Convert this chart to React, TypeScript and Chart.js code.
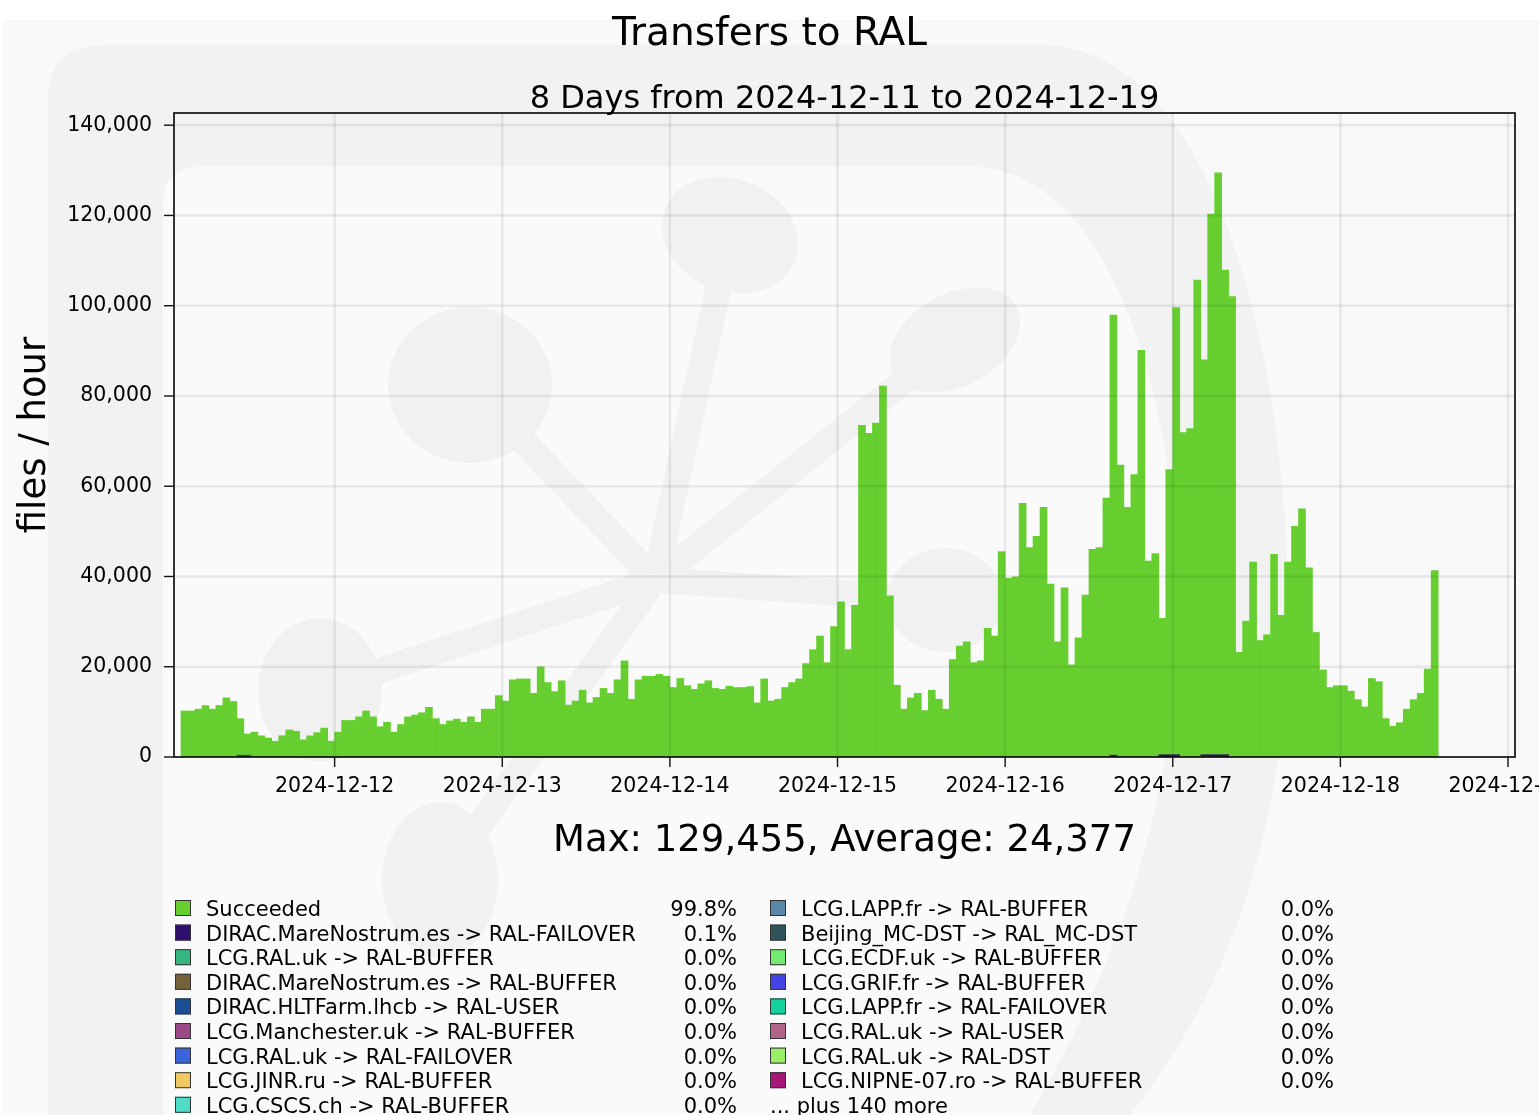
import { useEffect, useRef } from "react";
import { Chart, registerables } from "chart.js";

Chart.register(...registerables);

const W = 1539;
const H = 1115;
const FONT = '"DejaVu Sans", "Liberation Sans", sans-serif';

const CHART_TITLE = "Transfers to RAL";
const CHART_SUBTITLE = "8 Days from 2024-12-11 to 2024-12-19";
const Y_LABEL = "files / hour";

// x axis: hours after 2024-12-11 01:00, one bin per hour
const AXIS_HOURS = 192;
const FIRST_BIN_HOUR = 1; // first hourly bin starts 2024-12-11 02:00
const X_TICK_HOURS = [23, 47, 71, 95, 119, 143, 167, 191];
const X_TICK_LABELS = [
  "2024-12-12",
  "2024-12-13",
  "2024-12-14",
  "2024-12-15",
  "2024-12-16",
  "2024-12-17",
  "2024-12-18",
  "2024-12-19",
];
const Y_TICKS = [0, 20000, 40000, 60000, 80000, 100000, 120000, 140000];
const Y_MAX = 142700;

const MAX_VALUE = 129455;
const AVG_VALUE = 24377;

// Succeeded, files per hour (one value per hourly bin)
const SUCCEEDED = [
  10200, 10200, 10600, 11400, 10600, 11400, 13100, 12300, 8100, 4700,
  5500, 4700, 4200, 3500, 4700, 6000, 5700, 3800, 4700, 5400,
  6400, 3500, 5500, 8100, 8100, 8900, 10200, 8900, 6700, 7700,
  5500, 7200, 8900, 9300, 9800, 11000, 8500, 7200, 8000, 8400,
  7700, 8900, 7700, 10600, 10600, 13600, 12400, 17100, 17300, 17300,
  14100, 20000, 16500, 14500, 16900, 11500, 12400, 14800, 12000, 13200,
  15200, 14100, 17100, 21300, 12800, 17100, 17900, 17900, 18300, 17900,
  15400, 17400, 15800, 15000, 16200, 16900, 15200, 15000, 15700, 15400,
  15400, 15600, 12000, 17300, 12400, 12800, 15400, 16500, 17300, 20700,
  23800, 26800, 20900, 28900, 34400, 23800, 33600, 73500, 71700, 74000,
  82000, 35700, 15900, 10600, 13100, 14100, 10300, 14800, 12800, 10600,
  21600, 24600, 25500, 20900, 21300, 28300, 26600, 45300, 39600, 39900,
  56200, 46400, 48900, 55300, 38300, 25500, 37500, 20400, 26400, 35900,
  46000, 46400, 57400, 97500, 64500, 55300, 62600, 90100, 43400, 45100,
  30200, 63200, 99100, 71900, 72800, 105700, 87500, 119800, 128955, 107400,
  102000, 23200, 30100, 43200, 25800, 27100, 44900, 31400, 43200, 51100,
  55000, 41900, 27600, 19300, 15400, 15800, 15800, 14600, 12700, 11100,
  17400, 16700, 8500, 6800, 7600, 10600, 12700, 14100, 19500, 41300,
];

// small contributions (bin index -> files/hour)
const MN_FAILOVER_BINS = [133, 140, 141, 142, 146, 147, 148, 149];
const MN_FAILOVER = [400, 500, 500, 500, 500, 500, 500, 500];
const HLT_USER_BINS = [8, 9];
const HLT_USER = [400, 400];
const RAL_BUFFER_BINS = [100, 115, 116, 117, 134];
const RAL_BUFFER = [200, 200, 200, 200, 200];

const COLOR_SUCCEEDED = "#66cf2f";
const COLOR_MN_FAILOVER = "#2f0f6e";
const COLOR_HLT_USER = "#1b4f95";
const COLOR_RAL_BUFFER = "#35b57f";

const LEGEND_LEFT_LABELS = [
  "Succeeded",
  "DIRAC.MareNostrum.es -> RAL-FAILOVER",
  "LCG.RAL.uk -> RAL-BUFFER",
  "DIRAC.MareNostrum.es -> RAL-BUFFER",
  "DIRAC.HLTFarm.lhcb -> RAL-USER",
  "LCG.Manchester.uk -> RAL-BUFFER",
  "LCG.RAL.uk -> RAL-FAILOVER",
  "LCG.JINR.ru -> RAL-BUFFER",
  "LCG.CSCS.ch -> RAL-BUFFER",
];
const LEGEND_LEFT_COLORS = [
  COLOR_SUCCEEDED,
  COLOR_MN_FAILOVER,
  COLOR_RAL_BUFFER,
  "#76623a",
  COLOR_HLT_USER,
  "#9b4a85",
  "#3a64dc",
  "#f0c964",
  "#4fdcc8",
];
const LEGEND_LEFT_PCTS = ["99.8%", "0.1%", "0.0%", "0.0%", "0.0%", "0.0%", "0.0%", "0.0%", "0.0%"];

const LEGEND_RIGHT_LABELS = [
  "LCG.LAPP.fr -> RAL-BUFFER",
  "Beijing_MC-DST -> RAL_MC-DST",
  "LCG.ECDF.uk -> RAL-BUFFER",
  "LCG.GRIF.fr -> RAL-BUFFER",
  "LCG.LAPP.fr -> RAL-FAILOVER",
  "LCG.RAL.uk -> RAL-USER",
  "LCG.RAL.uk -> RAL-DST",
  "LCG.NIPNE-07.ro -> RAL-BUFFER",
];
const LEGEND_RIGHT_COLORS = [
  "#5a87a8",
  "#2f5459",
  "#72ea72",
  "#4444e6",
  "#14d19e",
  "#b0648a",
  "#9aee68",
  "#a5187a",
];
const LEGEND_RIGHT_PCTS = ["0.0%", "0.0%", "0.0%", "0.0%", "0.0%", "0.0%", "0.0%", "0.0%"];
const LEGEND_MORE = "... plus 140 more";

const toPoints = (bins: number[], vals: number[]) =>
  bins.map((b, k) => ({ x: FIRST_BIN_HOUR + b + 0.5, y: vals[k] }));

const decorPlugin = {
  id: "decor",
  beforeDraw(chart: any) {
    const ctx = chart.ctx as CanvasRenderingContext2D;
    ctx.save();
    ctx.fillStyle = "#ffffff";
    ctx.fillRect(0, 0, W, H);
    ctx.fillStyle = "#f9f9f9";
    ctx.fillRect(2, 20, W - 2, H - 20);
    // watermark outer shape
    ctx.fillStyle = "#f2f2f2";
    ctx.beginPath();
    ctx.moveTo(48, 100);
    ctx.quadraticCurveTo(48, 45, 105, 45);
    ctx.lineTo(1050, 45);
    ctx.bezierCurveTo(1230, 60, 1290, 400, 1288, 620);
    ctx.bezierCurveTo(1285, 850, 1220, 1000, 1130, 1115);
    ctx.lineTo(48, 1115);
    ctx.closePath();
    ctx.fill();
    // watermark inner lighter region
    ctx.fillStyle = "#fafafa";
    ctx.beginPath();
    ctx.moveTo(163, 200);
    ctx.quadraticCurveTo(163, 167, 200, 167);
    ctx.lineTo(980, 167);
    ctx.bezierCurveTo(1120, 180, 1178, 420, 1178, 610);
    ctx.bezierCurveTo(1176, 800, 1120, 960, 1030, 1115);
    ctx.lineTo(163, 1115);
    ctx.closePath();
    ctx.fill();
    // faint molecule (single flat tone, no overlap darkening)
    ctx.fillStyle = "#f1f1f1";
    ctx.strokeStyle = "#f1f1f1";
    ctx.lineWidth = 26;
    ctx.lineCap = "butt";
    const hub = [655, 580];
    const nodes: [number, number, number, number, number][] = [
      [730, 235, 70, 56, 0.4],
      [955, 340, 70, 46, -0.5],
      [470, 385, 82, 78, 0],
      [320, 690, 62, 72, 0],
      [945, 600, 58, 52, 0],
      [440, 880, 58, 78, 0],
    ];
    nodes.forEach(([cx, cy]) => {
      ctx.beginPath();
      ctx.moveTo(hub[0], hub[1]);
      ctx.lineTo(cx, cy);
      ctx.stroke();
    });
    nodes.forEach(([cx, cy, rx, ry, rot]) => {
      ctx.beginPath();
      ctx.ellipse(cx, cy, rx, ry, rot, 0, Math.PI * 2);
      ctx.fill();
    });
    ctx.restore();
  },
  afterDatasetsDraw(chart: any) {
    const ctx = chart.ctx as CanvasRenderingContext2D;
    const a = chart.chartArea;
    const xs = chart.scales.x;
    const ys = chart.scales.y;
    const line = (x1: number, y1: number, x2: number, y2: number) => {
      ctx.beginPath();
      ctx.moveTo(x1, y1);
      ctx.lineTo(x2, y2);
      ctx.stroke();
    };
    ctx.save();
    // grid on top of bars
    ctx.strokeStyle = "rgba(0,0,0,0.07)";
    ctx.lineWidth = 2.5;
    X_TICK_HOURS.forEach((h) => {
      const px = xs.getPixelForValue(h);
      line(px, a.top, px, a.bottom);
    });
    Y_TICKS.forEach((v) => {
      if (v === 0) return;
      const py = ys.getPixelForValue(v);
      line(a.left, py, a.right, py);
    });
    // frame
    ctx.strokeStyle = "#111";
    ctx.lineWidth = 1.7;
    ctx.strokeRect(a.left, a.top, a.right - a.left, a.bottom - a.top);
    // tick marks
    ctx.lineWidth = 1.4;
    Y_TICKS.forEach((v) => {
      const py = ys.getPixelForValue(v);
      line(a.left - 10, py, a.left, py);
    });
    X_TICK_HOURS.forEach((h) => {
      const px = xs.getPixelForValue(h);
      line(px, a.bottom, px, a.bottom + 10);
    });
    // x tick labels
    ctx.fillStyle = "#000";
    ctx.font = `20.5px ${FONT}`;
    ctx.textAlign = "center";
    ctx.textBaseline = "alphabetic";
    X_TICK_HOURS.forEach((h, k) => {
      ctx.fillText(X_TICK_LABELS[k], xs.getPixelForValue(h), a.bottom + 35);
    });
    ctx.restore();
  },
  afterDraw(chart: any) {
    const ctx = chart.ctx as CanvasRenderingContext2D;
    const a = chart.chartArea;
    ctx.save();
    ctx.fillStyle = "#000";
    ctx.textBaseline = "alphabetic";
    ctx.textAlign = "center";
    ctx.font = `39px ${FONT}`;
    ctx.fillText(CHART_TITLE, W / 2, 45);
    ctx.font = `32px ${FONT}`;
    ctx.fillText(CHART_SUBTITLE, (a.left + a.right) / 2, 108);
    ctx.font = `37px ${FONT}`;
    ctx.fillText(
      `Max: ${MAX_VALUE.toLocaleString("en-US")}, Average: ${AVG_VALUE.toLocaleString("en-US")}`,
      (a.left + a.right) / 2,
      851
    );
    // y title
    ctx.save();
    ctx.translate(45, (a.top + a.bottom) / 2);
    ctx.rotate(-Math.PI / 2);
    ctx.font = `37px ${FONT}`;
    ctx.fillText(Y_LABEL, 0, 0);
    ctx.restore();
    // legend
    const rowY0 = 908;
    const rowStep = 24.6;
    ctx.font = `21px ${FONT}`;
    const drawCol = (labels: string[], colors: string[], pcts: string[], boxX: number, pctRight: number) => {
      labels.forEach((lab, k) => {
        const cy = rowY0 + k * rowStep;
        ctx.fillStyle = colors[k];
        ctx.fillRect(boxX, cy - 8, 16, 16);
        ctx.strokeStyle = "#333";
        ctx.lineWidth = 1;
        ctx.strokeRect(boxX + 0.5, cy - 7.5, 15, 15);
        ctx.fillStyle = "#000";
        ctx.textAlign = "left";
        ctx.fillText(lab, boxX + 31, cy + 8);
        ctx.textAlign = "right";
        ctx.fillText(pcts[k], pctRight, cy + 8);
      });
    };
    drawCol(LEGEND_LEFT_LABELS, LEGEND_LEFT_COLORS, LEGEND_LEFT_PCTS, 175, 737);
    drawCol(LEGEND_RIGHT_LABELS, LEGEND_RIGHT_COLORS, LEGEND_RIGHT_PCTS, 770, 1334);
    ctx.fillStyle = "#000";
    ctx.textAlign = "left";
    ctx.fillText(LEGEND_MORE, 770, rowY0 + 8 * rowStep + 8);
    ctx.restore();
  },
};

export default function App() {
  const ref = useRef<HTMLCanvasElement>(null);
  useEffect(() => {
    if (!ref.current) return;
    const barOpts = {
      borderWidth: 0,
      barPercentage: 1,
      categoryPercentage: 1,
    };
    const chart = new Chart(ref.current, {
      type: "bar",
      data: {
        datasets: [
          {
            label: "DIRAC.HLTFarm.lhcb -> RAL-USER",
            data: toPoints(HLT_USER_BINS, HLT_USER),
            backgroundColor: COLOR_HLT_USER,
            ...barOpts,
          },
          {
            label: "LCG.RAL.uk -> RAL-BUFFER",
            data: toPoints(RAL_BUFFER_BINS, RAL_BUFFER),
            backgroundColor: COLOR_RAL_BUFFER,
            ...barOpts,
          },
          {
            label: "DIRAC.MareNostrum.es -> RAL-FAILOVER",
            data: toPoints(MN_FAILOVER_BINS, MN_FAILOVER),
            backgroundColor: COLOR_MN_FAILOVER,
            ...barOpts,
          },
          {
            label: "Succeeded",
            data: SUCCEEDED.map((v, i) => ({ x: FIRST_BIN_HOUR + i + 0.5, y: v })),
            backgroundColor: COLOR_SUCCEEDED,
            ...barOpts,
          },
        ],
      },
      options: {
        animation: false,
        responsive: false,
        maintainAspectRatio: false,
        layout: { padding: { top: 113, right: 24, bottom: 358, left: 0 } },
        plugins: {
          legend: { display: false },
          tooltip: { enabled: false },
          title: { display: false },
        },
        scales: {
          x: {
            type: "linear",
            min: 0,
            max: AXIS_HOURS,
            stacked: true,
            offset: false,
            display: false,
          },
          y: {
            type: "linear",
            min: 0,
            max: Y_MAX,
            stacked: true,
            grid: { display: false },
            border: { display: false },
            afterBuildTicks: (s: any) => {
              s.ticks = Y_TICKS.map((v) => ({ value: v }));
            },
            afterFit: (s: any) => {
              s.width = 174;
            },
            ticks: {
              padding: 14,
              color: "#000",
              font: { family: FONT, size: 20.5 },
              callback: (v: any) => Number(v).toLocaleString("en-US"),
            },
          },
        },
      } as any,
      plugins: [decorPlugin],
    });
    return () => chart.destroy();
  }, []);
  return (
    <div style={{ position: "fixed", left: 0, top: 0, width: W, height: H, background: "#fff" }}>
      <canvas ref={ref} width={W} height={H} style={{ display: "block", width: W, height: H }} />
    </div>
  );
}
